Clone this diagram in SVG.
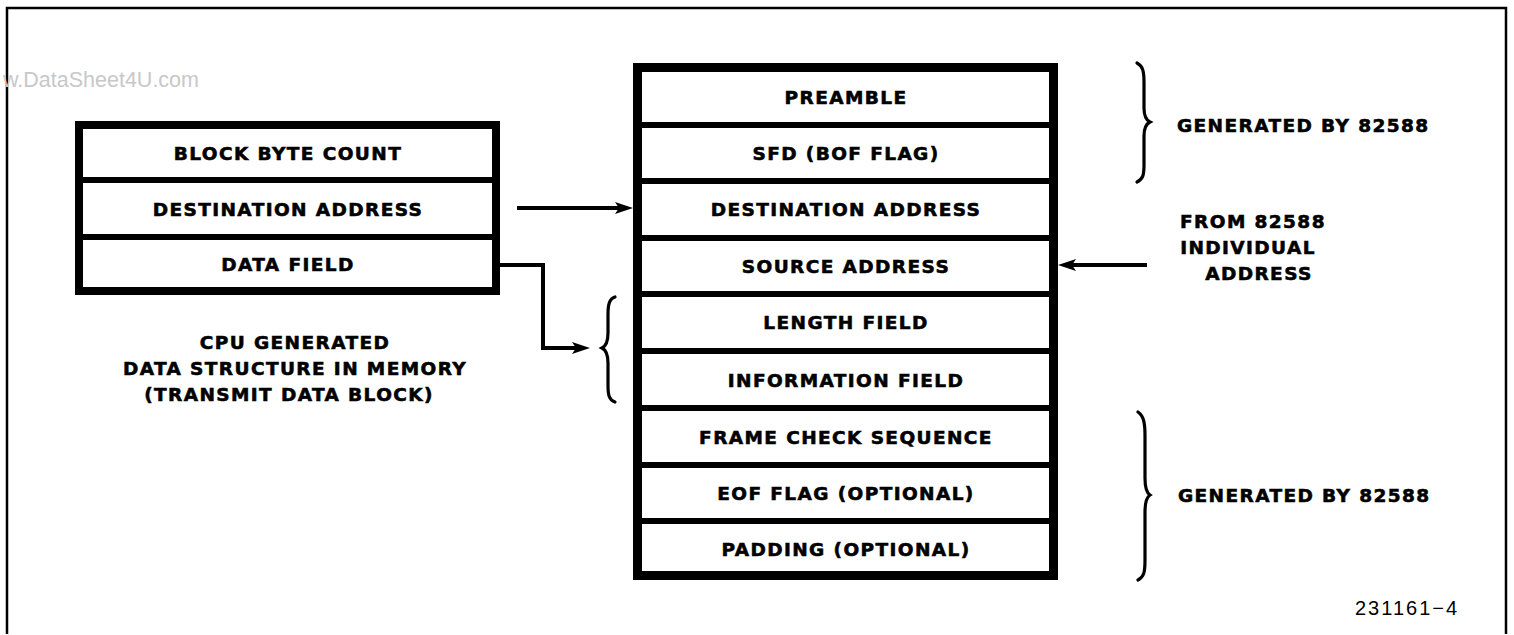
<svg xmlns="http://www.w3.org/2000/svg" width="1514" height="635" viewBox="0 0 1514 635">
<style>
.lbl{font-family:"DejaVu Sans","Liberation Sans",sans-serif;font-weight:bold;font-size:18.5px;letter-spacing:1.4px;fill:#000;stroke:#000;stroke-width:0.6px}
.mid{text-anchor:middle}
.box{fill:#fff;stroke:#000}
.div{stroke:#000;stroke-width:6}
.con{fill:none;stroke:#000;stroke-width:4}
.brace{fill:none;stroke:#000;stroke-width:3.2;stroke-linecap:round}
.wm{font-family:"Liberation Sans",Arial,sans-serif;font-size:21.5px;fill:#c8c8c8}
.num{font-family:"Liberation Sans",Arial,sans-serif;font-size:20px;letter-spacing:2px;fill:#000}
</style>
<defs>
<marker id="arr" markerUnits="userSpaceOnUse" markerWidth="20" markerHeight="14" refX="11" refY="7" orient="auto">
<path d="M0,1 L18,7 L0,13 L4,7 z" fill="#000"/>
</marker>
</defs>
<rect width="1514" height="635" fill="#fff"/>
<path d="M7,634 V8 H1506 V634" fill="none" stroke="#000" stroke-width="2.5"/>
<text class="wm" x="3" y="87">w.DataSheet4U.com</text>

<g id="cpu-block">
<rect class="box" x="79" y="125" width="417" height="166" stroke-width="8"/>
<line class="div" x1="79" y1="180" x2="496" y2="180"/>
<line class="div" x1="79" y1="237" x2="496" y2="237"/>
<text class="lbl mid" x="288" y="160">BLOCK BYTE COUNT</text>
<text class="lbl mid" x="288" y="216">DESTINATION ADDRESS</text>
<text class="lbl mid" x="288" y="271">DATA FIELD</text>
</g>

<g id="cpu-caption">
<text class="lbl mid" x="295" y="349">CPU GENERATED</text>
<text class="lbl mid" x="295" y="375">DATA STRUCTURE IN MEMORY</text>
<text class="lbl mid" x="289" y="401">(TRANSMIT DATA BLOCK)</text>
</g>

<g id="frame">
<rect class="box" x="637.5" y="67.5" width="416" height="508" stroke-width="9"/>
<line class="div" x1="638" y1="125" x2="1053" y2="125"/>
<line class="div" x1="638" y1="181" x2="1053" y2="181"/>
<line class="div" x1="638" y1="238" x2="1053" y2="238"/>
<line class="div" x1="638" y1="294" x2="1053" y2="294"/>
<line class="div" x1="638" y1="351" x2="1053" y2="351"/>
<line class="div" x1="638" y1="408" x2="1053" y2="408"/>
<line class="div" x1="638" y1="465" x2="1053" y2="465"/>
<line class="div" x1="638" y1="521" x2="1053" y2="521"/>
<text class="lbl mid" x="846" y="104">PREAMBLE</text>
<text class="lbl mid" x="846" y="160">SFD (BOF FLAG)</text>
<text class="lbl mid" x="846" y="216">DESTINATION ADDRESS</text>
<text class="lbl mid" x="846" y="273">SOURCE ADDRESS</text>
<text class="lbl mid" x="846" y="329">LENGTH FIELD</text>
<text class="lbl mid" x="846" y="387">INFORMATION FIELD</text>
<text class="lbl mid" x="846" y="444">FRAME CHECK SEQUENCE</text>
<text class="lbl mid" x="846" y="500">EOF FLAG (OPTIONAL)</text>
<text class="lbl mid" x="846" y="556">PADDING (OPTIONAL)</text>
</g>

<g id="gen-top">
<path class="brace" d="M1137,63 C1143,66 1144,72 1144,82 L1144,108 C1144,116 1146,120 1150,122 C1146,124 1144,128 1144,136 L1144,165 C1144,175 1143,179 1137,182"/>
<text class="lbl" x="1177" y="132">GENERATED BY 82588</text>
</g>

<g id="from-82588">
<text class="lbl mid" x="1253" y="228">FROM 82588</text>
<text class="lbl mid" x="1248" y="254">INDIVIDUAL</text>
<text class="lbl mid" x="1259" y="280">ADDRESS</text>
</g>

<g id="gen-bottom">
<path class="brace" d="M1138,412 C1144,416 1145,424 1145,436 L1145,478 C1145,488 1147,493 1150,495 C1147,497 1145,502 1145,512 L1145,560 C1145,572 1144,577 1138,580"/>
<text class="lbl" x="1178" y="502">GENERATED BY 82588</text>
</g>

<g id="data-brace">
<path class="brace" d="M615,297 C609,299 608,305 608,315 L608,333 C608,342 606,346 602,348 C606,350 608,354 608,363 L608,385 C608,395 609,400 615,402"/>
</g>

<g id="connectors">
<path class="con" d="M517,208 H626" marker-end="url(#arr)"/>
<path class="con" d="M500,265 H543 V348 H583" marker-end="url(#arr)"/>
<path class="con" d="M1147,265 H1065" marker-end="url(#arr)"/>
</g>

<text class="num" x="1355" y="615">231161−4</text>
</svg>
